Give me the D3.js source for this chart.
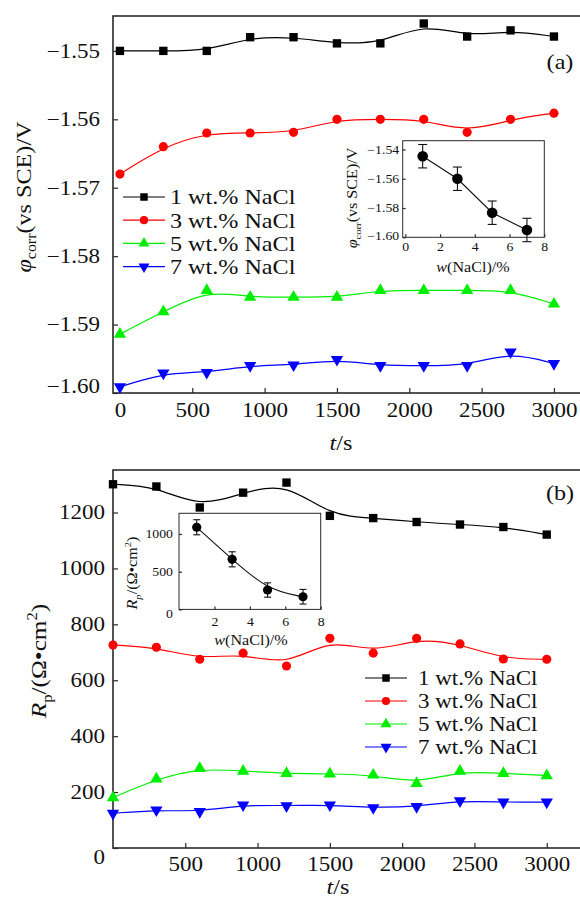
<!DOCTYPE html>
<html>
<head>
<meta charset="utf-8">
<script src="https://cdn.jsdelivr.net/npm/d3@7"></script>
<style>
  body { margin: 0; background: #fff; }
  svg { display: block; }
  text { font-family: "Liberation Serif", "Times New Roman", serif; fill: #111; }
</style>
</head>
<body>
<svg id="chart" width="580" height="898"></svg>
<script>
// Immersion time (s)
const tSec = [0, 300, 600, 900, 1200, 1500, 1800, 2100, 2400, 2700, 3000];

// Corrosion potential vs SCE (V)
const phi1 = [-1.5500, -1.5500, -1.5500, -1.5480, -1.5480, -1.5489, -1.5489, -1.5460, -1.5479, -1.5470, -1.5479];
const phi3 = [-1.5680, -1.5640, -1.5620, -1.5620, -1.5619, -1.5600, -1.5600, -1.5600, -1.5619, -1.5600, -1.5591];
const phi5 = [-1.5914, -1.5881, -1.5850, -1.5860, -1.5860, -1.5860, -1.5850, -1.5850, -1.5850, -1.5850, -1.5870];
const phi7 = [-1.5991, -1.5971, -1.5970, -1.5960, -1.5959, -1.5951, -1.5960, -1.5960, -1.5960, -1.5940, -1.5957];

// Polarization resistance (Ω·cm²)
const rp1 = [1301, 1293, 1218, 1271, 1307, 1188, 1180, 1166, 1157, 1148, 1121];
const rp3 = [726, 718, 675, 697, 651, 750, 697, 750, 730, 676, 675];
const rp5 = [180, 247, 285, 275, 267, 265, 261, 231, 275, 267, 259];
const rp7 = [124, 136, 130, 154, 151, 154, 144, 148, 169, 164, 164];

// Averages against NaCl content (inset plots)
const wNaCl = [1, 3, 5, 7];
const phiMean = [-1.5446, -1.5600, -1.5832, -1.5950];
const phiErr = [0.008, 0.008, 0.008, 0.008];
const rpMean = [1089, 664, 257, 168];
const rpErr = [100, 100, 95, 97];

const seriesLabels = ["1 wt.% NaCl", "3 wt.% NaCl", "5 wt.% NaCl", "7 wt.% NaCl"];
const xTicks = [0, 500, 1000, 1500, 2000, 2500, 3000];
const phiTicks = [-1.55, -1.56, -1.57, -1.58, -1.59, -1.60];
const rpTicks = [0, 200, 400, 600, 800, 1000, 1200];

// Marker styling per concentration
const styles = [
  { color: "#000000", type: d3.symbolSquare, size: 70, rot: 0 },
  { color: "#ff0000", type: d3.symbolCircle, size: 66, rot: 0 },
  { color: "#00ee00", type: d3.symbolTriangle, size: 66, rot: 0 },
  { color: "#0000ff", type: d3.symbolTriangle, size: 66, rot: 180 }
];

const svg = d3.select("#chart");
const FRAME = "#2a2a2a";
const STRETCH = 1.15;   // the serif lettering is drawn slightly wide

function styleAxis(g, size) {
  g.attr("font-family", null).attr("font-size", size).attr("color", FRAME);
  g.select(".domain").remove();
  g.selectAll(".tick line").attr("stroke-width", 1.2);
}

function drawSeries(g, x, y, valuesList) {
  valuesList.forEach((vals, i) => {
    const s = styles[i];
    const pts = tSec.map((t, j) => [t, vals[j]]);
    g.append("path")
      .attr("d", d3.line().x(d => x(d[0])).y(d => y(d[1])).curve(d3.curveBasis)(pts))
      .attr("fill", "none").attr("stroke", s.color).attr("stroke-width", 1.2);
    g.selectAll(null).data(pts).join("path")
      .attr("transform", d => `translate(${x(d[0])},${y(d[1])}) rotate(${s.rot})`)
      .attr("d", d3.symbol(s.type, s.size)())
      .attr("fill", s.color);
  });
}

function drawLegend(g, x0, y0, step, textX, fontSize) {
  seriesLabels.forEach((lab, i) => {
    const s = styles[i];
    const yy = y0 + i * step;
    g.append("line").attr("x1", x0).attr("x2", x0 + 42).attr("y1", yy).attr("y2", yy)
      .attr("stroke", s.color).attr("stroke-width", 1.2);
    g.append("path").attr("transform", `translate(${x0 + 21},${yy}) rotate(${s.rot})`)
      .attr("d", d3.symbol(s.type, s.size * 0.8)()).attr("fill", s.color);
    g.append("text").attr("x", textX).attr("y", yy).attr("dy", "0.35em")
      .attr("font-size", fontSize).text(lab);
  });
}

function frame(g, x0, y0, x1, y1, w) {
  g.append("rect").attr("x", x0).attr("y", y0).attr("width", x1 - x0).attr("height", y1 - y0)
    .attr("fill", "#fff").attr("stroke", FRAME).attr("stroke-width", w);
}

function phiTitle(g, cx, cy, fs) {
  const t = g.append("text").attr("transform", `translate(${cx},${cy}) rotate(-90)`)
    .attr("text-anchor", "middle").attr("font-size", fs);
  t.append("tspan").attr("font-style", "italic").text("φ");
  t.append("tspan").attr("font-size", fs * 0.66).attr("dy", fs * 0.25).text("corr");
  t.append("tspan").attr("dy", -fs * 0.25).text("(vs SCE)/V");
}

function rpTitle(g, cx, cy, fs, italicSub) {
  const t = g.append("text").attr("transform", `translate(${cx},${cy}) rotate(-90)`)
    .attr("text-anchor", "middle").attr("font-size", fs);
  t.append("tspan").attr("font-style", "italic").text("R");
  t.append("tspan").attr("font-size", fs * 0.66).attr("dy", fs * 0.25)
    .attr("font-style", italicSub ? "italic" : null).text("p");
  t.append("tspan").attr("dy", -fs * 0.25).text("/(Ω•cm");
  t.append("tspan").attr("font-size", fs * 0.66).attr("dy", -fs * 0.4).text("2");
  t.append("tspan").attr("dy", fs * 0.4).text(")");
}

function italicLead(g, x, y, fs, lead, rest) {
  const t = g.append("text").attr("x", x).attr("y", y).attr("text-anchor", "middle").attr("font-size", fs);
  t.append("tspan").attr("font-style", "italic").text(lead);
  t.append("tspan").text(rest);
}

// ---------- Panel (a): corrosion potential ----------
const gA = svg.append("g");
const xA = d3.scaleLinear([-48, 3187], [113, 581]);
const yA = d3.scaleLinear([-1.600, -1.5449], [393, 16]);
frame(gA, 113, 16, 581, 393, 1.6);

gA.append("g").attr("transform", "translate(0,393)")
  .call(d3.axisBottom(xA).tickValues(xTicks).tickFormat(d3.format("d")).tickSize(-5).tickSizeOuter(0).tickPadding(10))
  .call(g => styleAxis(g, 20));
gA.append("g").attr("transform", "translate(113,0)")
  .call(d3.axisLeft(yA).tickValues(phiTicks).tickFormat(d3.format(".2f")).tickSize(-5).tickSizeOuter(0).tickPadding(13))
  .call(g => styleAxis(g, 20))
  .call(g => g.selectAll(".tick text").filter(d => Math.abs(d + 1.6) < 1e-9).attr("transform", "translate(0,-7)"));

drawSeries(gA, xA, yA, [phi1, phi3, phi5, phi7]);
drawLegend(gA, 123, 197, 23.2, 170, 21);
phiTitle(gA, 31, 197, 21);
italicLead(gA, 341, 450, 21, "t", "/s");
gA.append("text").attr("x", 560).attr("y", 69).attr("text-anchor", "middle").attr("font-size", 21).text("(a)");

// Inset: mean potential vs NaCl content
const gAi = svg.append("g");
const xAi = d3.scaleLinear([-0.15, 8], [402.7, 544.3]);
const yAi = d3.scaleLinear([-1.600, -1.534], [237.3, 140.7]);
frame(gAi, 402.7, 140.7, 544.3, 237.3, 1);
gAi.append("g").attr("transform", "translate(0,237.3)")
  .call(d3.axisBottom(xAi).tickValues([0, 2, 4, 6, 8]).tickFormat(d3.format("d")).tickSize(-3).tickSizeOuter(0).tickPadding(5))
  .call(g => styleAxis(g, 12));
gAi.append("g").attr("transform", "translate(402.7,0)")
  .call(d3.axisLeft(yAi).tickValues([-1.54, -1.56, -1.58, -1.60]).tickFormat(d3.format(".2f")).tickSize(-3).tickSizeOuter(0).tickPadding(3.5))
  .call(g => styleAxis(g, 12))
  .call(g => g.selectAll(".tick text").filter(d => Math.abs(d + 1.6) < 1e-9).attr("transform", "translate(0,-2)"));
const ptsA = wNaCl.map((w, i) => ({ w, m: phiMean[i], e: phiErr[i] }));
gAi.append("path").attr("d", d3.line().x(d => xAi(d.w)).y(d => yAi(d.m))(ptsA))
  .attr("fill", "none").attr("stroke", "#111").attr("stroke-width", 1.1);
const ebA = gAi.selectAll(null).data(ptsA).join("g").attr("stroke", "#111").attr("stroke-width", 1.1);
ebA.append("line").attr("x1", d => xAi(d.w)).attr("x2", d => xAi(d.w)).attr("y1", d => yAi(d.m - d.e)).attr("y2", d => yAi(d.m + d.e));
ebA.append("line").attr("x1", d => xAi(d.w) - 4.5).attr("x2", d => xAi(d.w) + 4.5).attr("y1", d => yAi(d.m - d.e)).attr("y2", d => yAi(d.m - d.e));
ebA.append("line").attr("x1", d => xAi(d.w) - 4.5).attr("x2", d => xAi(d.w) + 4.5).attr("y1", d => yAi(d.m + d.e)).attr("y2", d => yAi(d.m + d.e));
gAi.selectAll(null).data(ptsA).join("circle").attr("cx", d => xAi(d.w)).attr("cy", d => yAi(d.m)).attr("r", 5.3).attr("fill", "#000");
phiTitle(gAi, 357, 198, 14);
italicLead(gAi, 473, 271.5, 14, "w", "(NaCl)/%");

// ---------- Panel (b): polarization resistance ----------
const gB = svg.append("g");
const xB = d3.scaleLinear([0, 3237], [113, 581]);
const yB = d3.scaleLinear([0, 1352], [848, 470]);
frame(gB, 113, 470, 581, 848, 1.6);

gB.append("g").attr("transform", "translate(0,848)")
  .call(d3.axisBottom(xB).tickValues(xTicks.slice(1)).tickFormat(d3.format("d")).tickSize(-5).tickSizeOuter(0).tickPadding(9))
  .call(g => styleAxis(g, 20));
gB.append("g").attr("transform", "translate(113,0)")
  .call(d3.axisLeft(yB).tickValues(rpTicks).tickFormat(d3.format("d")).tickSize(-5).tickSizeOuter(0).tickPadding(8))
  .call(g => styleAxis(g, 20))
  .call(g => g.selectAll(".tick text").filter(d => d === 0).attr("transform", "translate(0,9)"));

drawSeries(gB, xB, yB, [rp1, rp3, rp5, rp7]);
drawLegend(gB, 365, 678, 23, 418, 20);
rpTitle(gB, 46, 661, 22, false);
italicLead(gB, 338, 894, 21, "t", "/s");
gB.append("text").attr("x", 560).attr("y", 500).attr("text-anchor", "middle").attr("font-size", 21).text("(b)");

// Inset: mean resistance vs NaCl content
const gBi = svg.append("g");
const xBi = d3.scaleLinear([0, 8], [179, 320.7]);
const yBi = d3.scaleLinear([0, 1274], [609.4, 513.3]);
frame(gBi, 179, 513.3, 320.7, 609.4, 1);
gBi.append("g").attr("transform", "translate(0,609.4)")
  .call(d3.axisBottom(xBi).tickValues([2, 4, 6, 8]).tickFormat(d3.format("d")).tickSize(-3).tickSizeOuter(0).tickPadding(8))
  .call(g => styleAxis(g, 12));
gBi.append("g").attr("transform", "translate(179,0)")
  .call(d3.axisLeft(yBi).tickValues([0, 500, 1000]).tickFormat(d3.format("d")).tickSize(-3).tickSizeOuter(0).tickPadding(6))
  .call(g => styleAxis(g, 12))
  .call(g => g.selectAll(".tick text").filter(d => d === 0).attr("transform", "translate(0,4)"));
const ptsB = wNaCl.map((w, i) => ({ w, m: rpMean[i], e: rpErr[i] }));
gBi.append("path").attr("d", d3.line().x(d => xBi(d.w)).y(d => yBi(d.m)).curve(d3.curveBasis)(ptsB))
  .attr("fill", "none").attr("stroke", "#111").attr("stroke-width", 1.1);
const ebB = gBi.selectAll(null).data(ptsB).join("g").attr("stroke", "#111").attr("stroke-width", 1.1);
ebB.append("line").attr("x1", d => xBi(d.w)).attr("x2", d => xBi(d.w)).attr("y1", d => yBi(d.m - d.e)).attr("y2", d => yBi(d.m + d.e));
ebB.append("line").attr("x1", d => xBi(d.w) - 3.5).attr("x2", d => xBi(d.w) + 3.5).attr("y1", d => yBi(d.m - d.e)).attr("y2", d => yBi(d.m - d.e));
ebB.append("line").attr("x1", d => xBi(d.w) - 3.5).attr("x2", d => xBi(d.w) + 3.5).attr("y1", d => yBi(d.m + d.e)).attr("y2", d => yBi(d.m + d.e));
gBi.selectAll(null).data(ptsB).join("circle").attr("cx", d => xBi(d.w)).attr("cy", d => yBi(d.m)).attr("r", 4.6).attr("fill", "#000");
rpTitle(gBi, 137, 573, 14, true);
italicLead(gBi, 251, 645, 14, "w", "(NaCl)/%");

// Widen all lettering horizontally
svg.selectAll("text").each(function () {
  const w = this.getComputedTextLength();
  if (w > 0) {
    this.setAttribute("textLength", (w * STRETCH).toFixed(1));
    this.setAttribute("lengthAdjust", "spacingAndGlyphs");
  }
});
</script>
</body>
</html>
